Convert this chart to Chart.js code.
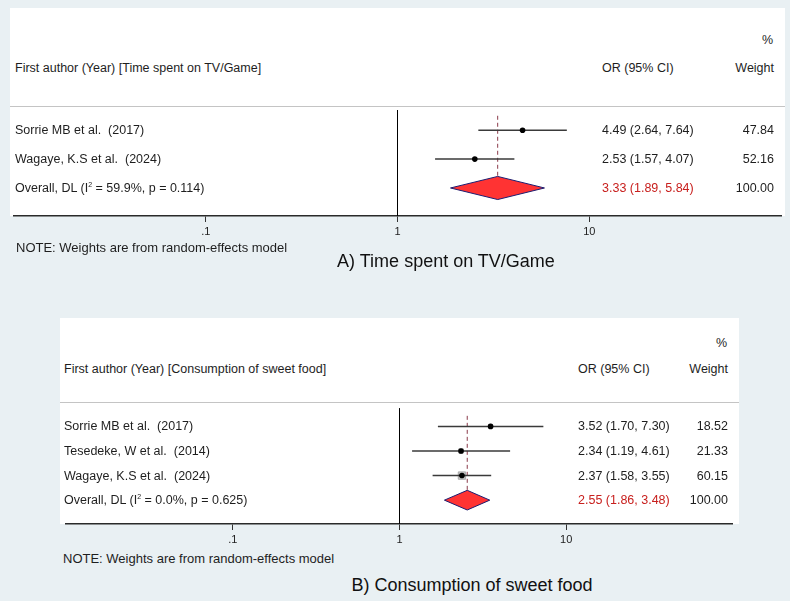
<!DOCTYPE html>
<html>
<head>
<meta charset="utf-8">
<script src="https://cdn.jsdelivr.net/npm/chart.js@4.4.1/dist/chart.umd.min.js"></script>
<style>
    body {
        margin: 0;
        width: 790px;
        height: 601px;
        position: relative;
        overflow: hidden;
        background: #e9f0f3;
        font-family: "Liberation Sans", Arial, sans-serif;
        color: #1e1e1e;
    }
    .panel { position: absolute; background: #fff; }
    .sep { position: absolute; height: 1px; background: #c4c4c4; }
    .t {
        position: absolute;
        transform: translateY(-50%);
        font-size: 12.5px;
        line-height: 1;
        white-space: pre;
    }
    .t sup { font-size: 7px; vertical-align: 5px; }
    .note { font-size: 13px; }
    .title { font-size: 18px; transform: translate(-50%, -50%); color: #111; }
    .red { color: #c8201e; }
    canvas { position: absolute; }
</style>
</head>
<body>
<script>
const FONT = '"Liberation Sans", Arial, sans-serif';

// x axis (odds ratio, log scale)
const tickValues = [0.1, 1, 10];
const tickLabels = ['.1', '1', '10'];

// A) Time spent on TV/Game
const studiesA = ['Sorrie MB et al.  (2017)', 'Wagaye, K.S et al.  (2024)'];
const orA = [4.49, 2.53];
const lowA = [2.64, 1.57];
const highA = [7.64, 4.07];
const weightA = [47.84, 52.16];
const pooledA = [3.33, 1.89, 5.84];   // estimate, low, high
const hetA = ['59.9%', '0.114'];      // I2, p

// B) Consumption of sweet food
const studiesB = ['Sorrie MB et al.  (2017)', 'Tesedeke, W et al.  (2014)', 'Wagaye, K.S et al.  (2024)'];
const orB = [3.52, 2.34, 2.37];
const lowB = [1.70, 1.19, 1.58];
const highB = [7.30, 4.61, 3.55];
const weightB = [18.52, 21.33, 60.15];
const pooledB = [2.55, 1.86, 3.48];
const hetB = ['0.0%', '0.625'];

const AXIS_H = 26;
const DIAMOND_H = 0.4;

function fmt(v) { return v.toFixed(2); }

function addText(html, x, y, cls = '', align = 'left') {
    const d = document.createElement('div');
    d.className = 't ' + cls;
    d.innerHTML = html;
    d.style.top = y + 'px';
    if (align === 'right') d.style.right = (790 - x) + 'px';
    else d.style.left = x + 'px';
    document.body.appendChild(d);
    return d;
}

function addBox(cls, left, top, width, height) {
    const d = document.createElement('div');
    d.className = cls;
    d.style.cssText = `left:${left}px;top:${top}px;width:${width}px;height:${height}px`;
    document.body.appendChild(d);
}

function forest(p, L) {
    const n = p.studies.length;
    const poolRow = n + 1;
    const [est, lo, hi] = p.pooled;

    addBox('panel', L.left, L.top, L.width, L.axisY - L.top);
    addBox('sep', L.left, L.sepY, L.width, 1);

    const canvas = document.createElement('canvas');
    canvas.width = L.width;
    canvas.height = L.axisY - L.sepY + AXIS_H;
    canvas.style.left = L.left + 'px';
    canvas.style.top = L.sepY + 'px';
    document.body.appendChild(canvas);

    const datasets = [];
    // studies: point estimates
    datasets.push({
        type: 'scatter', order: 0,
        data: p.or.map((v, i) => ({ x: v, y: i + 1 })),
        pointRadius: 2.8, backgroundColor: '#000', borderWidth: 0
    });
    // confidence intervals
    p.studies.forEach((s, i) => {
        datasets.push({
            type: 'line', order: 1,
            data: [{ x: p.low[i], y: i + 1 }, { x: p.high[i], y: i + 1 }],
            borderColor: '#3a3a3a', borderWidth: 1.5, pointRadius: 0
        });
    });
    // pooled estimate reference line
    datasets.push({
        type: 'line', order: 2,
        data: [{ x: est, y: L.dashFrom }, { x: est, y: poolRow - DIAMOND_H }],
        borderColor: '#8b3a4a', borderWidth: 1, borderDash: [4, 3], pointRadius: 0
    });
    // weight boxes
    if (L.boxScale) {
        datasets.push({
            type: 'scatter', order: 3,
            data: p.or.map((v, i) => ({ x: v, y: i + 1 })),
            pointStyle: 'rect',
            pointRadius: p.weight.map(w => L.boxScale * Math.sqrt(w) / Math.SQRT2),
            backgroundColor: '#c6c6c6', borderColor: '#a8a8a8', borderWidth: 1
        });
    }
    // pooled diamond
    datasets.push({
        type: 'line', order: 4,
        data: [
            { x: lo, y: poolRow }, { x: est, y: poolRow - DIAMOND_H },
            { x: hi, y: poolRow }, { x: est, y: poolRow + DIAMOND_H },
            { x: lo, y: poolRow }
        ],
        borderColor: '#1c1c70', borderWidth: 1, backgroundColor: '#ff3333',
        fill: 'shape', pointRadius: 0, tension: 0
    });
    // line of no effect
    datasets.push({
        type: 'line', order: 5,
        data: [{ x: 1, y: L.rowMin }, { x: 1, y: L.rowMax }],
        borderColor: '#000', borderWidth: 1, pointRadius: 0
    });

    const chart = new Chart(canvas, {
        type: 'scatter',
        data: { datasets },
        options: {
            responsive: false,
            animation: false,
            devicePixelRatio: 1,
            events: [],
            layout: { padding: 0 },
            plugins: { legend: { display: false }, tooltip: { enabled: false } },
            scales: {
                x: {
                    type: 'logarithmic',
                    min: 0.01,
                    max: 100,
                    afterBuildTicks: s => { s.ticks = tickValues.map(v => ({ value: v })); },
                    afterFit: s => { s.height = AXIS_H; },
                    ticks: {
                        callback: (v, i) => tickLabels[i],
                        autoSkip: false, maxRotation: 0, padding: 3,
                        color: '#222', font: { family: FONT, size: 11 }
                    },
                    grid: { display: true, drawOnChartArea: false, drawTicks: true, tickLength: 6, color: '#333' },
                    border: { display: true, color: '#2a2a2a', width: 1.5 }
                },
                y: { type: 'linear', display: false, reverse: true, min: L.rowMin, max: L.rowMax }
            }
        }
    });

    const rowY = r => L.sepY + chart.scales.y.getPixelForValue(r);

    // header
    addText('%', L.wtRight - 1, L.pctY, '', 'right');
    addText(p.heading, L.labelX, L.headY);
    addText('OR (95% CI)', L.orX, L.headY);
    addText('Weight', L.wtRight, L.headY, '', 'right');

    // study rows
    p.studies.forEach((s, i) => {
        const y = rowY(i + 1);
        addText(s, L.labelX, y);
        addText(`${fmt(p.or[i])} (${fmt(p.low[i])}, ${fmt(p.high[i])})`, L.orX, y);
        addText(fmt(p.weight[i]), L.wtRight, y, '', 'right');
    });

    // overall row
    const yp = rowY(poolRow);
    addText(`Overall, DL (I<sup>2</sup> = ${p.het[0]}, p = ${p.het[1]})`, L.labelX, yp);
    addText(`${fmt(est)} (${fmt(lo)}, ${fmt(hi)})`, L.orX, yp, 'red');
    addText(fmt(p.weight.reduce((a, b) => a + b, 0)), L.wtRight, yp, '', 'right');

    addText('NOTE: Weights are from random-effects model', L.noteX, L.noteY, 'note');
    addText(p.title, L.titleX, L.titleY, 'title');
}

forest(
    { heading: 'First author (Year) [Time spent on TV/Game]', title: 'A) Time spent on TV/Game',
      studies: studiesA, or: orA, low: lowA, high: highA, weight: weightA, pooled: pooledA, het: hetA },
    { left: 10, top: 8, width: 775, sepY: 106, axisY: 216, rowMin: 0.3, rowMax: 3.97,
      dashFrom: 0.5, boxScale: 0, labelX: 15, orX: 602, wtRight: 774, pctY: 40, headY: 68,
      noteX: 16, noteY: 247, titleX: 446, titleY: 261 }
);

forest(
    { heading: 'First author (Year) [Consumption of sweet food]', title: 'B) Consumption of sweet food',
      studies: studiesB, or: orB, low: lowB, high: highB, weight: weightB, pooled: pooledB, het: hetB },
    { left: 60, top: 318, width: 679, sepY: 402, axisY: 524, rowMin: 0.26, rowMax: 4.97,
      dashFrom: 0.57, boxScale: 0.95, labelX: 64, orX: 578, wtRight: 728, pctY: 343, headY: 369,
      noteX: 63, noteY: 558, titleX: 472, titleY: 585 }
);
</script>
</body>
</html>
